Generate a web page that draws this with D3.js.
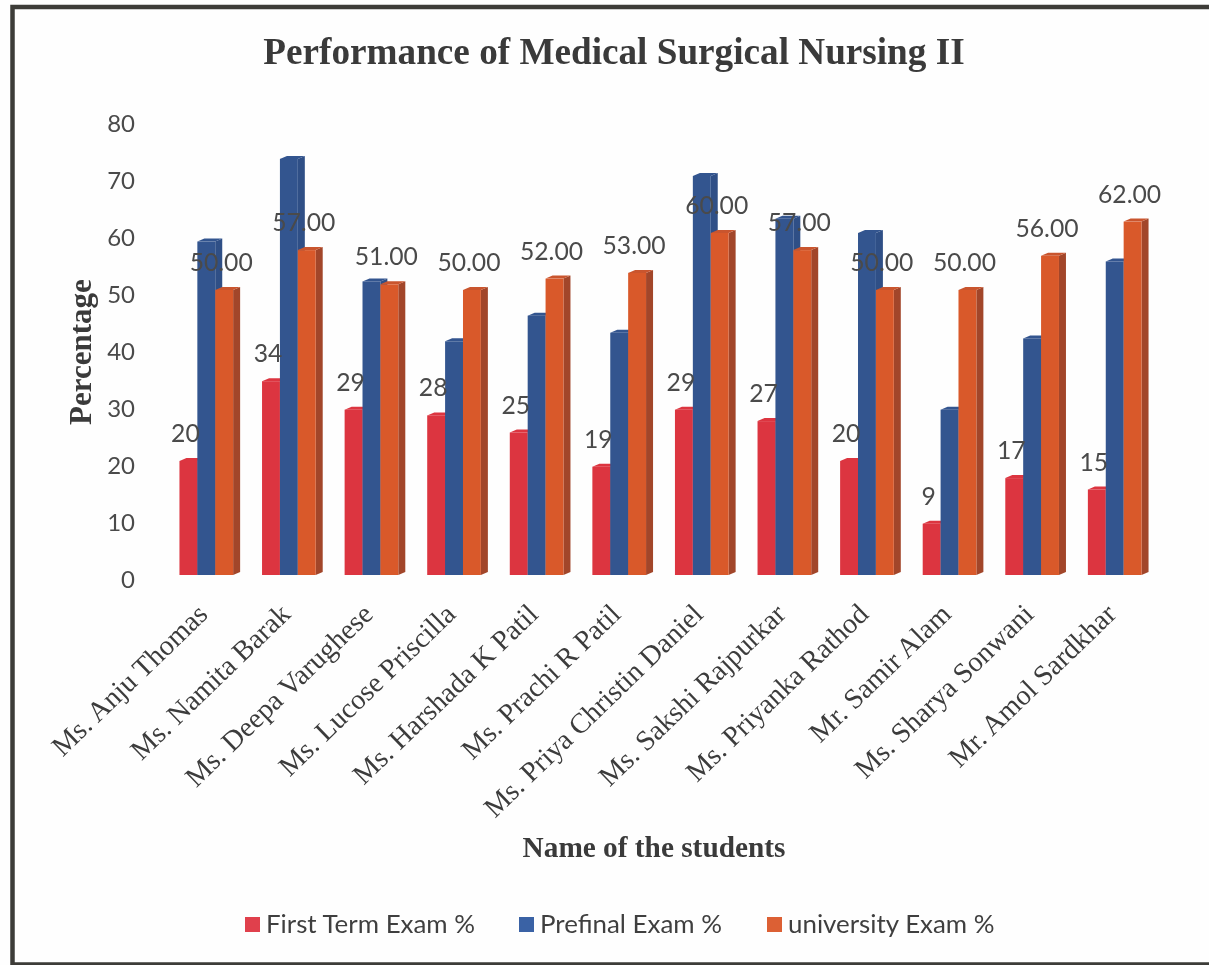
<!DOCTYPE html>
<html>
<head>
<meta charset="utf-8">
<script src="https://cdn.jsdelivr.net/npm/d3@7"></script>
<style>
  html, body { margin: 0; padding: 0; background: #fff; overflow: hidden; }
  svg { display: block; filter: blur(0.5px); }
</style>
</head>
<body>
<svg id="chart"></svg>
<script>
const students = ["Ms. Anju Thomas", "Ms. Namita Barak", "Ms. Deepa Varughese", "Ms. Lucose Priscilla",
    "Ms. Harshada K Patil", "Ms. Prachi R Patil", "Ms. Priya Christin Daniel", "Ms. Sakshi Rajpurkar",
    "Ms. Priyanka Rathod", "Mr. Samir Alam", "Ms. Sharya Sonwani", "Mr. Amol Sardkhar"];
const firstTerm = [20, 34, 29, 28, 25, 19, 29, 27, 20, 9, 17, 15];
const prefinal = [58.5, 73, 51.5, 41, 45.5, 42.5, 70, 62.5, 60, 29, 41.5, 55];
const university = [50, 57, 51, 50, 52, 53, 60, 57, 50, 50, 56, 62];
const seriesNames = ["First Term Exam %", "Prefinal Exam %", "university Exam %"];
const yTicks = [0, 10, 20, 30, 40, 50, 60, 70, 80];

const width = 1209, height = 965;
const margin = { top: 119, right: 53, bottom: 390, left: 165 };
const innerW = width - margin.left - margin.right;
const innerH = height - margin.top - margin.bottom;
const depthX = 7, depthY = 3;

const colors = [
    { front: "#dc3540", side: "#a82a30", top: "#dc3540", label: "#e0404c" },
    { front: "#33558f", side: "#2f4f86", top: "#33558f", label: "#3a62a5" },
    { front: "#d9592a", side: "#a2462a", top: "#c9552e", label: "#dc6034" }
];
const textColor = "#4a4a4a";

const svg = d3.select("#chart").attr("width", width).attr("height", height);
svg.append("rect").attr("width", width).attr("height", height).attr("fill", "#fefefe");

// scanned frame: no right edge on the page
svg.append("path")
    .attr("d", d3.line()([[width, 7], [12.5, 7], [12.5, 964.5], [width, 964.5]]))
    .attr("fill", "none")
    .attr("stroke", "#3d3c38")
    .attr("stroke-width", 4.5);

const g = svg.append("g").attr("transform", `translate(${margin.left}, ${margin.top})`);

const xScale = d3.scaleBand().domain(students).range([0, innerW]).paddingInner(0.35).paddingOuter(0.175);
const xInner = d3.scaleBand().domain(d3.range(3)).range([0, xScale.bandwidth()]);
const yScale = d3.scaleLinear().domain([0, 80]).range([innerH, 0]);

const yAxis = g.append("g")
    .attr("transform", "translate(-30, 5)")
    .call(d3.axisLeft(yScale).tickValues(yTicks).tickSize(0).tickPadding(0));
yAxis.select(".domain").remove();
yAxis.selectAll("text")
    .attr("font-family", "Lato")
    .attr("font-size", 24)
    .attr("fill", textColor);

const xAxis = g.append("g")
    .attr("transform", `translate(0, ${innerH})`)
    .call(d3.axisBottom(xScale).tickSize(0).tickPadding(0));
xAxis.select(".domain").remove();
xAxis.selectAll("text")
    .attr("font-family", "Liberation Serif")
    .attr("font-size", 28.4)
    .attr("fill", "#3c3c3c")
    .attr("text-anchor", "end")
    .attr("dy", 0)
    .attr("transform", "translate(3, 41) rotate(-44)");

[firstTerm, prefinal, university].forEach((values, s) => {
    const bars = g.append("g").selectAll("g")
        .data(values)
        .enter()
        .append("g")
        .attr("transform", (d, i) => `translate(${xScale(students[i]) + xInner(s)}, 0)`);
    const w = xInner.bandwidth();

    bars.append("path")
        .attr("fill", colors[s].side)
        .attr("d", d => `M${w},${yScale(d)}l${depthX},${-depthY}V${innerH - depthY}L${w},${innerH}Z`);
    bars.append("path")
        .attr("fill", colors[s].top)
        .attr("d", d => `M0,${yScale(d)}l${depthX},${-depthY}H${w + depthX}L${w},${yScale(d)}Z`);
    bars.append("rect")
        .attr("y", d => yScale(d))
        .attr("width", w)
        .attr("height", d => innerH - yScale(d))
        .attr("fill", colors[s].front);
});

// labels go over every bar, only first term and university have them
const labelSeries = [
    { values: firstTerm, s: 0, fmt: d => d },
    { values: university, s: 2, fmt: d => d.toFixed(2) }
];
labelSeries.forEach(({ values, s, fmt }) => {
    g.append("g").selectAll("text")
        .data(values)
        .enter()
        .append("text")
        .attr("x", (d, i) => xScale(students[i]) + xInner(s) + xInner.bandwidth() / 2 - 3)
        .attr("y", d => yScale(d) - 19)
        .attr("text-anchor", "middle")
        .attr("font-family", "Lato")
        .attr("font-size", 24.7)
        .attr("fill", textColor)
        .text(fmt);
});

svg.append("text")
    .attr("x", 614)
    .attr("y", 64)
    .attr("text-anchor", "middle")
    .attr("font-family", "Liberation Serif")
    .attr("font-weight", "bold")
    .attr("font-size", 37.2)
    .attr("fill", "#3a3a3a")
    .text("Performance of Medical Surgical Nursing II");

svg.append("text")
    .attr("transform", "translate(91, 352) rotate(-90)")
    .attr("text-anchor", "middle")
    .attr("font-family", "Liberation Serif")
    .attr("font-weight", "bold")
    .attr("font-size", 31)
    .attr("fill", "#3a3a3a")
    .text("Percentage");

svg.append("text")
    .attr("x", 654)
    .attr("y", 857)
    .attr("text-anchor", "middle")
    .attr("font-family", "Liberation Serif")
    .attr("font-weight", "bold")
    .attr("font-size", 29.3)
    .attr("fill", "#3a3a3a")
    .text("Name of the students");

const legendX = [245, 519, 767];
const legend = svg.append("g").selectAll("g")
    .data(seriesNames)
    .enter()
    .append("g")
    .attr("transform", (d, i) => `translate(${legendX[i]}, 917)`);
legend.append("rect")
    .attr("width", 15)
    .attr("height", 15)
    .attr("fill", (d, i) => colors[i].label);
legend.append("text")
    .attr("x", 21)
    .attr("y", 16)
    .attr("font-family", "Lato")
    .attr("font-size", 25.9)
    .attr("fill", "#3f3f3f")
    .text(d => d);
</script>
</body>
</html>
